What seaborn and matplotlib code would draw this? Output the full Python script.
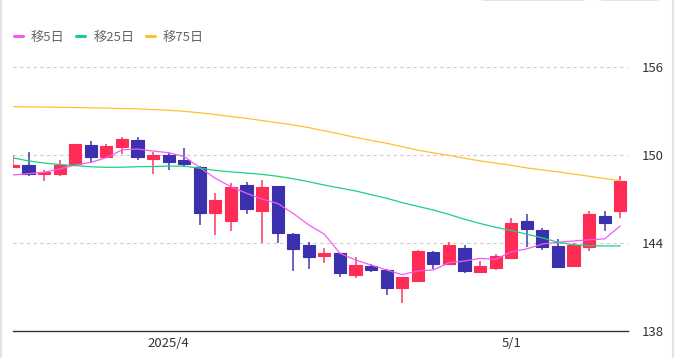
import numpy as np
import pandas as pd
import matplotlib
matplotlib.use("Agg")
import matplotlib.pyplot as plt
import seaborn as sns
from matplotlib.patches import FancyBboxPatch
from matplotlib.lines import Line2D

# daily candles
opens = [149.20, 149.34, 148.70, 148.73, 149.39, 150.68, 149.89, 150.52, 151.04, 149.73,
         150.00, 149.66, 149.20, 146.05, 145.52, 147.95, 146.20, 147.89, 144.59, 143.86,
         143.11, 143.30, 141.82, 142.45, 142.16, 140.91, 141.41, 143.41, 142.59, 143.64,
         142.02, 142.27, 142.95, 145.52, 144.89, 143.80, 142.45, 143.71, 145.86, 146.18]
highs = [150.00, 150.18, 149.00, 149.66, 150.75, 150.95, 150.77, 151.20, 151.20, 150.23,
         150.16, 150.50, 149.25, 147.43, 148.11, 148.14, 148.30, 147.90, 144.66, 144.09,
         143.64, 143.35, 143.07, 142.55, 142.20, 141.70, 143.50, 143.45, 144.05, 143.89,
         142.77, 143.23, 145.73, 145.96, 145.05, 144.27, 143.98, 146.18, 146.20, 148.59]
lows = [149.10, 148.59, 148.20, 148.55, 149.35, 149.55, 149.85, 150.10, 149.66, 148.70,
        148.98, 149.20, 145.23, 144.55, 144.82, 145.98, 144.00, 144.00, 142.09, 142.25,
        142.66, 141.66, 141.64, 142.05, 140.45, 139.89, 141.40, 142.23, 142.55, 141.93,
        141.98, 142.16, 142.90, 143.75, 143.52, 142.35, 142.40, 143.48, 144.84, 145.73]
closes = [149.35, 148.69, 148.84, 149.32, 150.73, 149.89, 150.61, 151.09, 149.84, 150.02,
          149.54, 149.41, 146.02, 146.95, 147.84, 146.32, 147.84, 144.66, 143.57, 143.07,
          143.30, 141.98, 142.50, 142.16, 140.91, 141.66, 143.45, 142.57, 143.89, 142.11,
          142.43, 143.11, 145.39, 144.93, 143.71, 142.39, 143.86, 145.96, 145.34, 148.23]

# moving averages
ma5 = [148.64, 148.73, 148.82, 149.05, 149.32, 149.50, 149.82, 150.35, 150.41, 150.27,
       150.16, 149.89, 149.14, 148.41, 147.84, 147.39, 147.00, 146.70, 146.02, 145.23,
       144.60, 143.30, 142.84, 142.50, 142.16, 141.84, 142.10, 142.16, 142.66, 142.77,
       142.95, 142.89, 143.40, 143.60, 143.93, 144.05, 144.14, 144.22, 144.28, 145.16]
ma25 = [149.80, 149.60, 149.45, 149.35, 149.28, 149.20, 149.16, 149.17, 149.20, 149.22,
        149.24, 149.24, 149.10, 148.95, 148.85, 148.77, 148.68, 148.55, 148.38, 148.18,
        147.95, 147.75, 147.55, 147.30, 147.05, 146.75, 146.50, 146.25, 145.95, 145.62,
        145.33, 145.07, 144.85, 144.60, 144.35, 144.05, 143.88, 143.82, 143.80, 143.80]
ma75 = [153.30, 153.28, 153.27, 153.26, 153.24, 153.22, 153.20, 153.17, 153.15, 153.10,
        153.05, 152.98, 152.88, 152.76, 152.63, 152.50, 152.35, 152.20, 152.05, 151.87,
        151.65, 151.43, 151.20, 151.00, 150.80, 150.57, 150.33, 150.15, 149.98, 149.78,
        149.60, 149.45, 149.30, 149.12, 148.98, 148.85, 148.70, 148.55, 148.40, 148.25]

date_ticks = [10, 32]
date_labels = ['2025/4', '5/1']
price_ticks = [138, 144, 150, 156]

df = pd.DataFrame({'open': opens, 'high': highs, 'low': lows, 'close': closes,
                   'ma5': ma5, 'ma25': ma25, 'ma75': ma75})
df['idx'] = np.arange(len(df))

UP = '#ff2d55'
DOWN = '#3b30ad'

sns.set_theme(style="white")
plt.rcParams['font.family'] = ['Noto Sans CJK JP', 'DejaVu Sans']

fig = plt.figure(figsize=(6.77, 3.58), dpi=100)
ax = fig.add_axes([13 / 677, 27 / 358, 615 / 677, 271 / 358])

# candles
colors = [UP if c >= o else DOWN for o, c in zip(df['open'], df['close'])]
ax.vlines(df['idx'], df['low'], df['high'], colors=colors, linewidth=1.4, alpha=0.75, zorder=2)
ax.bar(df['idx'], (df['close'] - df['open']).abs(), bottom=np.minimum(df['open'], df['close']),
       width=0.78, color=colors, edgecolor=colors, linewidth=0.8, zorder=3)

# moving averages
sns.lineplot(data=df, x='idx', y='ma5', ax=ax, color='#f25cf5', linewidth=0.9, zorder=4)
sns.lineplot(data=df, x='idx', y='ma25', ax=ax, color='#19d27c', linewidth=0.9, zorder=4)
sns.lineplot(data=df, x='idx', y='ma75', ax=ax, color='#fdc02f', linewidth=0.9, zorder=4)

ax.set_xlim(0, 39.5)
ax.set_ylim(138, 156.48)
ax.set_xlabel('')
ax.set_ylabel('')
ax.set_xticks(date_ticks)
ax.set_xticklabels(date_labels)
ax.yaxis.tick_right()
ax.set_yticks(price_ticks)
ax.tick_params(axis='both', length=0, labelsize=9.5, labelcolor='#333333')
ax.tick_params(axis='y', pad=10)
ax.tick_params(axis='x', pad=4)
for lab in ax.get_yticklabels():
    lab.set_horizontalalignment('left')

for v in price_ticks[1:]:
    ax.axhline(v, color='#cccccc', linewidth=0.8, linestyle=(0, (3, 3)), zorder=1)

sns.despine(ax=ax, left=True, right=True, top=True)
ax.spines['bottom'].set_color('#333333')
ax.spines['bottom'].set_linewidth(1.0)
ax.grid(False)

# legend
handles = [Line2D([], [], color='#f25cf5', lw=2.2),
           Line2D([], [], color='#19d27c', lw=2.2),
           Line2D([], [], color='#fdc02f', lw=2.2)]
fig.legend(handles, ['移5日', '移25日', '移75日'], loc='center left',
           bbox_to_anchor=(14 / 677, 1 - 37 / 358), ncol=3, frameon=False,
           handlelength=0.7, handletextpad=0.6, columnspacing=0.85,
           prop={'size': 9.5}, labelcolor='#666666', borderaxespad=0, borderpad=0)

# bits of the surrounding page
fig.add_artist(FancyBboxPatch((479 / 677, 1.0), 109 / 677, 0.04,
                              boxstyle='round,pad=0,rounding_size=0.01',
                              transform=fig.transFigure, facecolor='white',
                              edgecolor='#cccccc', linewidth=0.8))
fig.add_artist(FancyBboxPatch((597 / 677, 1.0), 65 / 677, 0.04,
                              boxstyle='round,pad=0,rounding_size=0.01',
                              transform=fig.transFigure, facecolor='white',
                              edgecolor='#cccccc', linewidth=0.8))
fig.add_artist(Line2D([1 / 677, 1 / 677], [0, 1], color='#e3e3e3', lw=1.5, transform=fig.transFigure))
fig.add_artist(Line2D([673 / 677, 673 / 677], [0, 1], color='#e3e3e3', lw=1.5, transform=fig.transFigure))

fig.savefig('out.png', dpi=100)
